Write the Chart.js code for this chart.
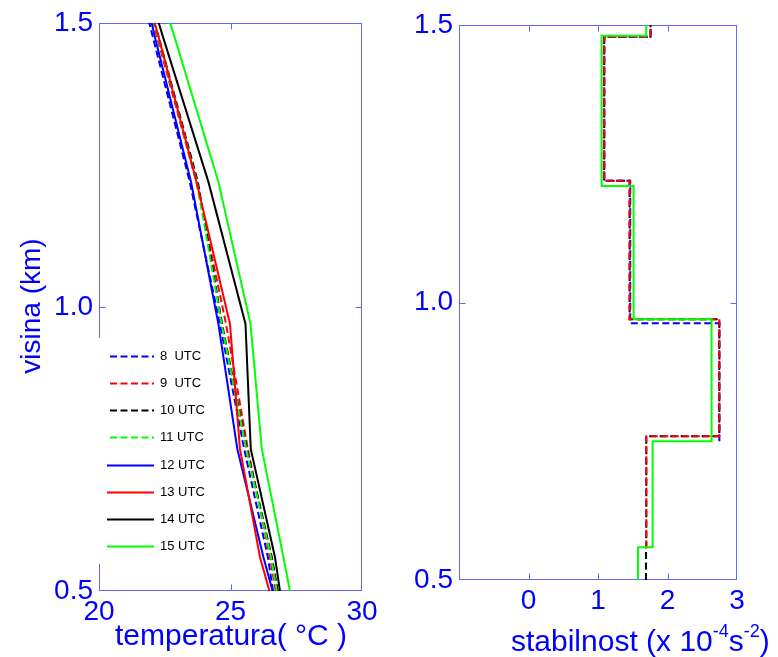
<!DOCTYPE html>
<html>
<head>
<meta charset="utf-8">
<title>Profili temperature i stabilnosti</title>
<script src="https://cdn.jsdelivr.net/npm/chart.js@4.4.1/dist/chart.umd.min.js"></script>
<style>
  body { margin: 0; background: #fff; }
  #wrap { position: relative; width: 778px; height: 657px; overflow: hidden; }
  canvas { position: absolute; top: 0; }
  #tempChart { left: 0; }
  #stabChart { left: 390px; }
</style>
</head>
<body>
<div id="wrap">
  <canvas id="tempChart" width="390" height="657"></canvas>
  <canvas id="stabChart" width="388" height="657"></canvas>
</div>
<script>
const hours = ["8  UTC", "9  UTC", "10 UTC", "11 UTC", "12 UTC", "13 UTC", "14 UTC", "15 UTC"];
const lineColors = ["#0000ff", "#ff0000", "#000000", "#00ff00", "#0000ff", "#ff0000", "#000000", "#00ff00"];
const isDashed = [true, true, true, true, false, false, false, false];

// profile nodes (km)
const levels = [0.5, 0.56, 0.75, 0.97, 1.22, 1.48, 1.5];
// temperature (°C) at each node, one array per hour
const temp8 = [26.62, 26.42, 25.52, 24.60, 23.45, 22.02, 21.91];
const temp9 = [26.72, 26.50, 25.66, 24.83, 23.70, 22.18, 22.06];
const temp10 = [26.80, 26.57, 25.62, 24.68, 23.76, 22.24, 22.10];
const temp11 = [26.76, 26.54, 25.60, 24.66, 23.72, 22.22, 22.08];
const temp12 = [26.60, 26.25, 25.26, 24.54, 23.50, 22.10, 22.00];
const temp13 = [26.48, 26.12, 25.36, 24.98, 23.71, 22.24, 22.11];
const temp14 = [26.88, 26.69, 25.77, 25.57, 24.16, 22.40, 22.27];
const temp15 = [27.26, 27.01, 26.19, 25.76, 24.54, 22.84, 22.70];
const temps = [temp8, temp9, temp10, temp11, temp12, temp13, temp14, temp15];

// stability (x 10^-4 s^-2): layer bottoms (km) and the layer value above each
const topHeight = 1.5;
const stab8Base = [0.75, 0.9625, 1.2195, 1.479];
const stab8 = [2.746, 1.464, 1.09, 1.756];
const stab9Base = [0.559, 0.759, 0.97, 1.2195, 1.479];
const stab9 = [1.695, 2.746, 1.455, 1.09, 1.756];
const stab10Base = [0.5, 0.559, 0.759, 0.97, 1.2195, 1.479];
const stab10 = [1.69, 1.695, 2.746, 1.455, 1.09, 1.756];
const stab15Base = [0.5, 0.559, 0.75, 0.97, 1.21, 1.4807];
const stab15 = [1.575, 1.786, 2.634, 1.512, 1.052, 1.695];

const tickBlue = "#0000ff";
const frameBlue = "#6464ff";
const dash = [7, 3.5];
const fontFamily = "'Liberation Sans', Arial, sans-serif";

// box round the plot area plus short inward tick marks
const frameAndTicks = {
  id: "frameAndTicks",
  beforeDatasetsDraw(chart, args, opts) {
    const { ctx, chartArea: a } = chart;
    const x = chart.scales.x, y = chart.scales.y;
    const L = Math.round(a.left) + 0.5, R = Math.round(a.right) - 0.5;
    const T = Math.round(a.top) + 0.5, B = Math.round(a.bottom) - 0.5;
    ctx.save();
    ctx.strokeStyle = frameBlue;
    ctx.lineWidth = 1;
    ctx.strokeRect(L, T, R - L, B - T);
    ctx.beginPath();
    opts.xMarks.forEach(v => {
      const px = Math.round(x.getPixelForValue(v)) + 0.5;
      ctx.moveTo(px, B); ctx.lineTo(px, B - 6);
      ctx.moveTo(px, T); ctx.lineTo(px, T + 6);
    });
    opts.yMarks.forEach(v => {
      const py = Math.round(y.getPixelForValue(v)) + 0.5;
      ctx.moveTo(L, py); ctx.lineTo(L + 6, py);
      ctx.moveTo(R, py); ctx.lineTo(R - 6, py);
    });
    ctx.stroke();
    ctx.restore();
  }
};

function scaleOptions(min, max, step, width, height, fmt) {
  return {
    x: {
      type: "linear", min: min[0], max: max[0],
      grid: { display: false, drawTicks: false }, border: { display: false },
      ticks: { stepSize: step[0], padding: 4, color: tickBlue, font: { family: fontFamily, size: 28 }, callback: fmt[0] },
      afterFit: s => { s.height = height; }
    },
    y: {
      type: "linear", min: min[1], max: max[1],
      grid: { display: false, drawTicks: false }, border: { display: false },
      ticks: { stepSize: step[1], padding: 6, color: tickBlue, font: { family: fontFamily, size: 28 }, callback: fmt[1] },
      afterFit: s => { s.width = width; }
    }
  };
}

// ---- temperature profiles ----
const tempSets = temps.map((t, i) => ({
  label: hours[i],
  data: levels.map((h, k) => ({ x: t[k], y: h })),
  borderColor: lineColors[i],
  borderWidth: 2,
  borderDash: isDashed[i] ? dash : [],
  showLine: true,
  pointRadius: 0,
  order: isDashed[i] ? 20 - i : 10 - i
}));

const tempLegend = {
  id: "tempLegend",
  afterDatasetsDraw(chart) {
    const ctx = chart.ctx;
    ctx.save();
    ctx.fillStyle = "#fff";
    ctx.fillRect(94, 338, 118, 226);
    ctx.font = "13px " + fontFamily;
    ctx.textBaseline = "middle";
    chart.data.datasets.forEach((ds, i) => {
      const yy = Math.round(355.7 + i * 27.2) + 0.5;
      ctx.strokeStyle = ds.borderColor;
      ctx.lineWidth = 2;
      ctx.setLineDash(ds.borderDash);
      ctx.beginPath();
      ctx.moveTo(ds.borderDash.length ? 110 : 107, yy);
      ctx.lineTo(154, yy);
      ctx.stroke();
      ctx.fillStyle = "#000";
      ctx.fillText(ds.label, 160, yy);
    });
    ctx.setLineDash([]);
    ctx.restore();
  }
};

const tempTitles = {
  id: "tempTitles",
  afterDraw(chart) {
    const ctx = chart.ctx;
    ctx.save();
    ctx.fillStyle = tickBlue;
    ctx.font = "30px " + fontFamily;
    ctx.textBaseline = "alphabetic";
    ctx.textAlign = "left";
    ctx.fillText("temperatura( °C )", 115, 645);
    ctx.translate(40, 306);
    ctx.rotate(-Math.PI / 2);
    ctx.textAlign = "center";
    ctx.font = "28px " + fontFamily;
    ctx.fillText("visina (km)", 0, 0);
    ctx.restore();
  }
};

new Chart(document.getElementById("tempChart"), {
  type: "scatter",
  data: { datasets: tempSets },
  options: {
    responsive: false,
    animation: false,
    layout: { padding: { left: 0, right: 28, top: 19, bottom: 0 } },
    plugins: {
      legend: { display: false },
      tooltip: { enabled: false },
      frameAndTicks: { xMarks: [25], yMarks: [1.0] }
    },
    scales: scaleOptions([20, 0.5], [30, 1.5], [5, 0.5], 99, 66,
      [v => v, v => v.toFixed(1)])
  },
  plugins: [frameAndTicks, tempLegend, tempTitles]
});

// ---- stability steps ----
function steps(base, vals) {
  const pts = base.map((b, k) => ({ x: vals[k], y: b }));
  pts.push({ x: vals[vals.length - 1], y: topHeight });
  return pts;
}

const stabSets = [
  { label: hours[7], data: steps(stab15Base, stab15), borderColor: lineColors[7], borderDash: [], order: 0 },
  { label: hours[1], data: steps(stab9Base, stab9), borderColor: lineColors[1], borderDash: dash, order: 1 },
  { label: hours[0], data: steps(stab8Base, stab8), borderColor: lineColors[0], borderDash: dash, order: 2 },
  { label: hours[2], data: steps(stab10Base, stab10), borderColor: lineColors[2], borderDash: dash, order: 3 }
].map(ds => Object.assign(ds, { showLine: true, stepped: "after", pointRadius: 0, borderWidth: 2 }));

const stabTitle = {
  id: "stabTitle",
  afterDraw(chart) {
    const ctx = chart.ctx;
    ctx.save();
    ctx.fillStyle = tickBlue;
    ctx.textBaseline = "alphabetic";
    const big = "30px " + fontFamily, small = "18px " + fontFamily;
    let x = 121;
    const piece = (txt, font, dy) => {
      ctx.font = font;
      ctx.fillText(txt, x, 651 + dy);
      x += ctx.measureText(txt).width;
    };
    piece("stabilnost (x 10", big, 0);
    piece("-4", small, -14);
    piece("s", big, 0);
    piece("-2", small, -14);
    piece(")", big, 0);
    ctx.restore();
  }
};

new Chart(document.getElementById("stabChart"), {
  type: "scatter",
  data: { datasets: stabSets },
  options: {
    responsive: false,
    animation: false,
    layout: { padding: { left: 0, right: 41, top: 25, bottom: 0 } },
    plugins: {
      legend: { display: false },
      tooltip: { enabled: false },
      frameAndTicks: { xMarks: [0, 1, 2], yMarks: [1.0] }
    },
    scales: scaleOptions([-1, 0.5], [3, 1.5], [1, 0.5], 69, 77,
      [v => (v < 0 ? "" : v), v => v.toFixed(1)])
  },
  plugins: [frameAndTicks, stabTitle]
});
</script>
</body>
</html>
